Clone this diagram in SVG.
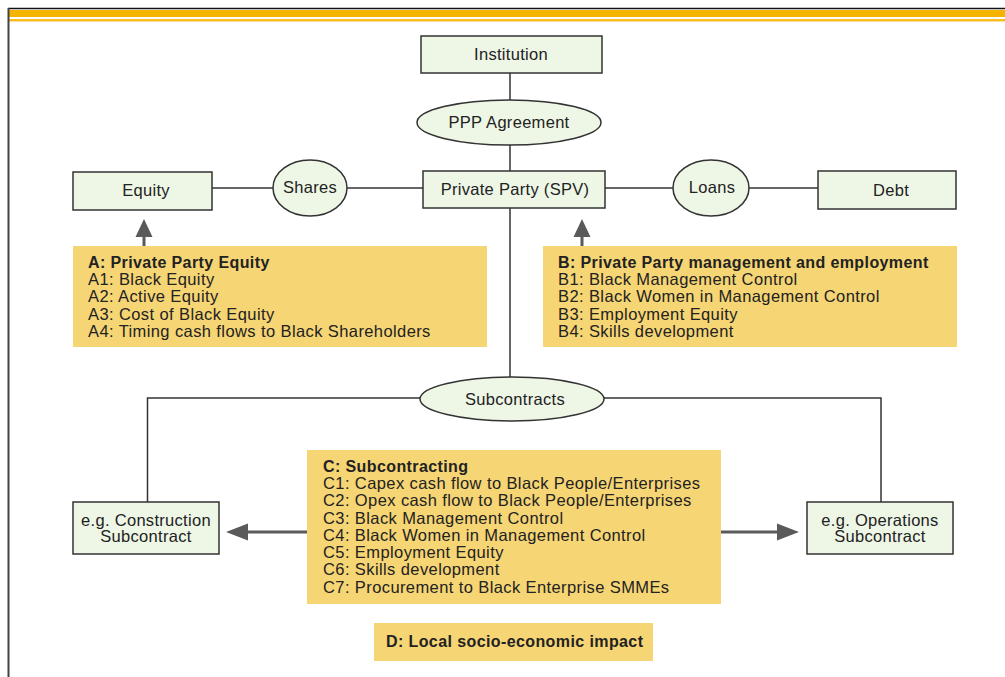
<svg xmlns="http://www.w3.org/2000/svg" width="1005" height="677" viewBox="0 0 1005 677">
<defs>
<style>
.node{fill:#eef6e6;stroke:#333;stroke-width:1.5}
.box{fill:#f6d574}
.lbl{font-family:"Liberation Sans",Arial,sans-serif;font-size:16.5px;letter-spacing:0.3px;fill:#222;text-anchor:middle}
.txt{font-family:"Liberation Sans",Arial,sans-serif;font-size:16.5px;letter-spacing:0.4px;fill:#222}
.ttl{font-weight:bold;font-size:16px}
.ln{stroke:#333;stroke-width:1.5;fill:none}
</style>
</defs>
<rect width="1005" height="677" fill="#fff"/>
<g id="frame">
<line x1="8" y1="8.5" x2="1005" y2="8.5" stroke="#111" stroke-width="1.5"/>
<rect x="9" y="10" width="996" height="7" fill="#f5b400"/>
<rect x="9" y="19" width="996" height="2.5" fill="#f7bd22"/>
<line x1="8.5" y1="8" x2="8.5" y2="677" stroke="#444" stroke-width="2"/>
</g>
<g id="connectors">
<line class="ln" x1="510" y1="73" x2="510" y2="100"/>
<line class="ln" x1="510" y1="145" x2="510" y2="171"/>
<line class="ln" x1="212" y1="188" x2="273" y2="188"/>
<line class="ln" x1="347" y1="188" x2="423" y2="188"/>
<line class="ln" x1="605" y1="188" x2="673" y2="188"/>
<line class="ln" x1="749" y1="188" x2="818" y2="188"/>
<line class="ln" x1="510" y1="208" x2="510" y2="377"/>
<polyline class="ln" points="420,398 147.5,398 147.5,502"/>
<polyline class="ln" points="604,398 881,398 881,502"/>
<g stroke="#5a5a5a" fill="#5a5a5a">
<line x1="144" y1="247" x2="144" y2="234" stroke-width="3"/>
<polygon points="144,219 135.5,237 152.5,237" stroke="none"/>
<line x1="582" y1="247" x2="582" y2="234" stroke-width="3"/>
<polygon points="582,219 573.5,237 590.5,237" stroke="none"/>
<line x1="307" y1="532" x2="244" y2="532" stroke-width="3"/>
<polygon points="226,532 248,523.5 248,540.5" stroke="none"/>
<line x1="721" y1="532" x2="782" y2="532" stroke-width="3"/>
<polygon points="799,532 777,523.5 777,540.5" stroke="none"/>
</g>
</g>
<g id="institution">
<rect class="node" x="421" y="36" width="181" height="37"/>
<text class="lbl" x="511" y="60">Institution</text>
</g>
<g id="ppp">
<ellipse class="node" cx="509" cy="122.5" rx="92" ry="22.5"/>
<text class="lbl" x="509" y="128">PPP Agreement</text>
</g>
<g id="spv">
<rect class="node" x="423" y="171" width="182" height="37"/>
<text class="lbl" x="515" y="195">Private Party (SPV)</text>
</g>
<g id="equity">
<rect class="node" x="73" y="172" width="139" height="38"/>
<text class="lbl" x="146" y="196">Equity</text>
</g>
<g id="shares">
<ellipse class="node" cx="310" cy="188" rx="37" ry="28"/>
<text class="lbl" x="310" y="193">Shares</text>
</g>
<g id="loans">
<ellipse class="node" cx="711" cy="188" rx="38" ry="28"/>
<text class="lbl" x="712" y="193">Loans</text>
</g>
<g id="debt">
<rect class="node" x="818" y="171" width="138" height="38"/>
<text class="lbl" x="891" y="196">Debt</text>
</g>
<g id="subcontracts">
<ellipse class="node" cx="512" cy="399" rx="92" ry="22"/>
<text class="lbl" x="515" y="405">Subcontracts</text>
</g>
<g id="construction">
<rect class="node" x="73" y="502" width="146" height="52"/>
<text class="lbl" x="146" y="526">e.g. Construction</text>
<text class="lbl" x="146" y="542">Subcontract</text>
</g>
<g id="operations">
<rect class="node" x="807" y="502" width="146" height="52"/>
<text class="lbl" x="880" y="526">e.g. Operations</text>
<text class="lbl" x="880" y="542">Subcontract</text>
</g>
<g id="boxA">
<rect class="box" x="73" y="246" width="414" height="101"/>
<text class="txt" x="88"><tspan class="ttl" x="88" y="268">A: Private Party Equity</tspan><tspan x="88" y="285">A1: Black Equity</tspan><tspan x="88" y="302">A2: Active Equity</tspan><tspan x="88" y="320">A3: Cost of Black Equity</tspan><tspan x="88" y="337">A4: Timing cash flows to Black Shareholders</tspan></text>
</g>
<g id="boxB">
<rect class="box" x="543" y="246" width="414" height="101"/>
<text class="txt" x="558"><tspan class="ttl" x="558" y="268">B: Private Party management and employment</tspan><tspan x="558" y="285">B1: Black Management Control</tspan><tspan x="558" y="302">B2: Black Women in Management Control</tspan><tspan x="558" y="320">B3: Employment Equity</tspan><tspan x="558" y="337">B4: Skills development</tspan></text>
</g>
<g id="boxC">
<rect class="box" x="307" y="450" width="414" height="154"/>
<text class="txt" x="323"><tspan class="ttl" x="323" y="472">C: Subcontracting</tspan><tspan x="323" y="489">C1: Capex cash flow to Black People/Enterprises</tspan><tspan x="323" y="506">C2: Opex cash flow to Black People/Enterprises</tspan><tspan x="323" y="524">C3: Black Management Control</tspan><tspan x="323" y="541">C4: Black Women in Management Control</tspan><tspan x="323" y="558">C5: Employment Equity</tspan><tspan x="323" y="575">C6: Skills development</tspan><tspan x="323" y="593">C7: Procurement to Black Enterprise SMMEs</tspan></text>
</g>
<g id="boxD">
<rect class="box" x="374" y="623" width="279" height="38"/>
<text class="txt ttl" x="386" y="647">D: Local socio-economic impact</text>
</g>
</svg>
